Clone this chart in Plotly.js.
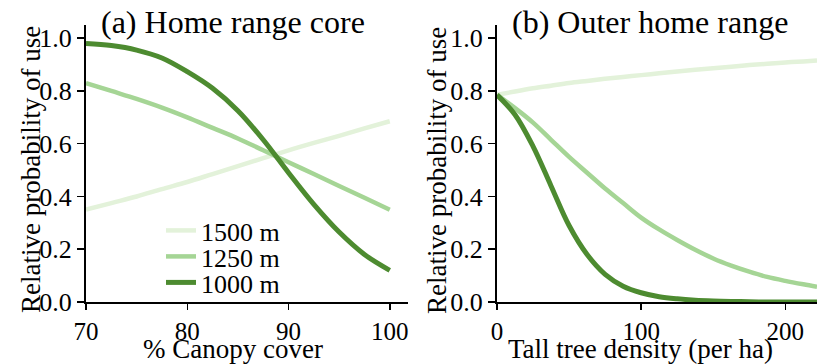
<!DOCTYPE html>
<html>
<head>
<meta charset="utf-8">
<script src="https://cdn.plot.ly/plotly-3.0.1.min.js"></script>
<style>html,body{margin:0;padding:0;background:#fff;}#chart{width:817px;height:364px;}</style>
</head>
<body>
<div id="chart"></div>
<script>
// Panel (a): % Canopy cover
const canopyX = [70, 72.5, 75, 77.5, 80, 82.5, 85, 87.5, 90, 92.5, 95, 97.5, 100];
const a1500 = [0.35, 0.375, 0.40, 0.428, 0.455, 0.485, 0.515, 0.545, 0.575, 0.603, 0.63, 0.658, 0.685];
const a1250 = [0.83, 0.80, 0.77, 0.737, 0.70, 0.66, 0.62, 0.575, 0.53, 0.485, 0.44, 0.395, 0.35];
const a1000 = [0.98, 0.972, 0.955, 0.925, 0.873, 0.81, 0.725, 0.615, 0.49, 0.37, 0.265, 0.18, 0.12];

// Panel (b): Tall tree density (per ha)
const densityX = [0, 12.5, 25, 37.5, 50, 62.5, 75, 87.5, 100, 112.5, 125, 137.5, 150, 162.5, 175, 187.5, 200, 212.5, 222];
const b1500 = [0.785, 0.798, 0.81, 0.82, 0.83, 0.838, 0.846, 0.853, 0.86, 0.867, 0.874, 0.88, 0.886, 0.892, 0.898, 0.903, 0.908, 0.912, 0.915];
const b1250 = [0.785, 0.735, 0.68, 0.615, 0.55, 0.49, 0.43, 0.375, 0.32, 0.275, 0.235, 0.198, 0.165, 0.138, 0.115, 0.095, 0.08, 0.067, 0.058];
const b1000 = [0.785, 0.71, 0.59, 0.44, 0.29, 0.18, 0.105, 0.06, 0.035, 0.02, 0.012, 0.007, 0.004, 0.002, 0.001, 0, 0, 0, 0];

const seriesNames = ["1500 m", "1250 m", "1000 m"];
const seriesColors = ["#e3f2da", "#a5d595", "#4d8b30"];
const seriesWidths = [4.5, 4.5, 5];
const legendIds = ["legend", "legend2", "legend3"];
const yTicks = [0, 0.2, 0.4, 0.6, 0.8, 1.0];
const yTickText = ["0.0", "0.2", "0.4", "0.6", "0.8", "1.0"];
const aTicks = [70, 80, 90, 100];
const bTicks = [0, 100, 200];

const font = "'Liberation Serif', 'Times New Roman', serif";

function tr(x, y, i, xa, ya, show) {
  return {x: x, y: y, type: "scatter", mode: "lines", name: seriesNames[i],
    line: {color: seriesColors[i], width: seriesWidths[i], shape: "spline"},
    xaxis: xa, yaxis: ya, showlegend: show, legend: legendIds[i], hoverinfo: "skip"};
}

const data = [
  tr(canopyX, a1500, 0, "x", "y", true),
  tr(canopyX, a1250, 1, "x", "y", true),
  tr(canopyX, a1000, 2, "x", "y", true),
  tr(densityX, b1500, 0, "x2", "y2", false),
  tr(densityX, b1250, 1, "x2", "y2", false),
  tr(densityX, b1000, 2, "x2", "y2", false)
];

const axisCommon = {
  showgrid: false, zeroline: false, showline: true, linecolor: "#000", linewidth: 2,
  ticks: "outside", ticklen: 7, tickwidth: 1.5, tickcolor: "#000",
  tickfont: {family: font, size: 26, color: "#000"}
};
const xAxisExtra = {ticklen: 6, tickfont: {family: font, size: 25, color: "#000"}};
const yDomain = [62/364, 339/364];

function legendAt(rowCenterPx) {
  return {x: 161/817, y: 1 - (rowCenterPx - 26)/364, xanchor: "left", yanchor: "top",
    bgcolor: "rgba(0,0,0,0)", font: {family: font, size: 26, color: "#000"},
    tracegroupgap: 0};
}

const layout = {
  width: 817, height: 364,
  margin: {l: 0, r: 0, t: 0, b: 0},
  paper_bgcolor: "#fff", plot_bgcolor: "#fff",
  font: {family: font, color: "#000"},
  xaxis: Object.assign({}, axisCommon, xAxisExtra, {domain: [86/817, 408/817], range: [70, 101.8], tickvals: aTicks, anchor: "y"}),
  yaxis: Object.assign({}, axisCommon, {domain: yDomain, range: [0, 1.05], tickvals: yTicks, ticktext: yTickText, anchor: "x"}),
  xaxis2: Object.assign({}, axisCommon, xAxisExtra, {domain: [497/817, 1], range: [0, 222], tickvals: bTicks, anchor: "y2"}),
  yaxis2: Object.assign({}, axisCommon, {domain: yDomain, range: [0, 1.05], tickvals: yTicks, ticktext: yTickText, anchor: "x2"}),
  showlegend: true,
  legend: legendAt(233),
  legend2: legendAt(259),
  legend3: legendAt(285),
  annotations: [
    {text: "(a) Home range core", xref: "paper", yref: "paper", x: 99/817, y: 1 - 22/364, xanchor: "left", yanchor: "middle", showarrow: false, font: {family: font, size: 32, color: "#000"}},
    {text: "(b) Outer home range", xref: "paper", yref: "paper", x: 510/817, y: 1 - 22/364, xanchor: "left", yanchor: "middle", showarrow: false, font: {family: font, size: 32, color: "#000"}},
    {text: "% Canopy cover", xref: "paper", yref: "paper", x: 233/817, y: 1 - 349/364, xanchor: "center", yanchor: "middle", showarrow: false, font: {family: font, size: 27, color: "#000"}},
    {text: "Tall tree density (per ha)", xref: "paper", yref: "paper", x: 640/817, y: 1 - 349/364, xanchor: "center", yanchor: "middle", showarrow: false, font: {family: font, size: 27, color: "#000"}},
    {text: "Relative probability of use", xref: "paper", yref: "paper", x: 31/817, y: 1 - 170/364, xanchor: "center", yanchor: "middle", textangle: -90, showarrow: false, font: {family: font, size: 27, color: "#000"}},
    {text: "Relative probability of use", xref: "paper", yref: "paper", x: 437/817, y: 1 - 170/364, xanchor: "center", yanchor: "middle", textangle: -90, showarrow: false, font: {family: font, size: 27, color: "#000"}}
  ]
};

Plotly.newPlot("chart", data, layout, {staticPlot: true, displayModeBar: false});
</script>
</body>
</html>
